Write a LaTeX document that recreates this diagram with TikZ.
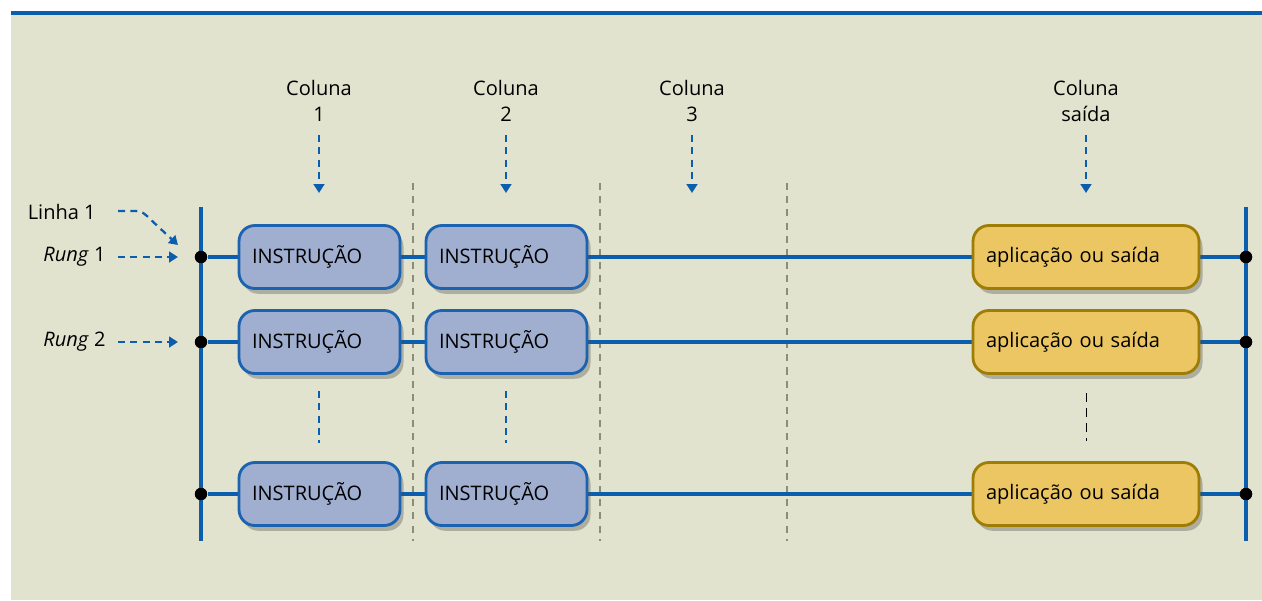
\documentclass[tikz,border=0pt]{standalone}
\usepackage{fontspec}
\setmainfont{Open Sans}
\usetikzlibrary{arrows.meta,shadows}
\definecolor{bg}{HTML}{E2E3CE}
\definecolor{railblue}{HTML}{0B5DAE}
\definecolor{instfill}{HTML}{A0AED0}
\definecolor{instdraw}{HTML}{1B62B0}
\definecolor{outfill}{HTML}{EBC662}
\definecolor{outdraw}{HTML}{9E7D06}
\definecolor{sepgray}{HTML}{8C8C7C}
\tikzset{
  rail/.style={railblue,line width=2.3pt},
  rungline/.style={railblue,line width=2.2pt},
  inst/.style={draw=instdraw,fill=instfill,line width=1.6pt,rounded corners=9pt,
    minimum width=3.22cm,minimum height=1.26cm,text width=2.7cm,align=left,
    inner xsep=0.26cm,font=\fontsize{11.4}{13}\selectfont,
    drop shadow={shadow xshift=2pt,shadow yshift=-3pt,opacity=0.35,fill=black!70}},
  outbox/.style={draw=outdraw,fill=outfill,line width=1.6pt,rounded corners=9pt,
    minimum width=4.52cm,minimum height=1.26cm,text width=4.0cm,align=left,
    inner xsep=0.26cm,font=\fontsize{11.4}{13}\selectfont,
    drop shadow={shadow xshift=2pt,shadow yshift=-3pt,opacity=0.35,fill=black!70}},
  joint/.style={circle,fill=black,inner sep=0pt,minimum size=7pt},
  lbl/.style={font=\fontsize{11.4}{14.6}\selectfont,align=center,inner sep=0pt},
  bluedash/.style={railblue,line width=1.3pt,dash pattern=on 4pt off 3pt},
  darr/.style={bluedash,-{Triangle[length=5pt,width=6pt]}},
  sep/.style={sepgray,line width=0.8pt,dash pattern=on 4pt off 3.5pt},
}
\begin{document}
\begin{tikzpicture}[x=0.02cm,y=-0.02cm]
\useasboundingbox (0,0) rectangle (1262,600);
\fill[white] (0,0) rectangle (1262,600);
\fill[bg] (11,13) rectangle (1262,600);
\draw[railblue,line width=1.8pt] (11,13) -- (1262,13);

% column separators
\foreach \x/\n in {413/s1,600/s2,787/s3}{
  \coordinate (\n t) at (\x,183);
  \coordinate (\n b) at (\x,541);
  \draw[sep] (\n t) -- (\n b);
}

% rails
\coordinate (lt) at (201,207); \coordinate (lb) at (201,541);
\coordinate (rt) at (1246,207); \coordinate (rb) at (1246,541);

% rung joints
\foreach \r/\y in {1/257,2/342,3/494}{
  \node[joint] (L\r) at (201,\y) {};
  \node[joint] (R\r) at (1246,\y) {};
  \draw[rungline] (L\r) -- (R\r);
}
\draw[rail] (lt) -- (lb);
\draw[rail] (rt) -- (rb);
\foreach \r/\y in {1/257,2/342,3/494}{
  \node[joint] at (L\r) {};
  \node[joint] at (R\r) {};
}

% boxes
\foreach \r/\y in {1/257,2/342,3/494}{
  \node[inst] (A\r) at (319.5,\y) {INSTRUÇÃO};
  \node[inst] (B\r) at (506.5,\y) {INSTRUÇÃO};
  \node[outbox] (O\r) at (1086,\y) {aplicação ou saída};
}

% column labels
\node[lbl] (c1) at (319,101) {Coluna\\1};
\node[lbl] (c2) at (506,101) {Coluna\\2};
\node[lbl] (c3) at (692,101) {Coluna\\3};
\node[lbl] (c4) at (1086,101) {Coluna\\saída};
\foreach \x/\n in {319/c1,506/c2,692/c3,1086/c4}{
  \coordinate (\n s) at (\x,135);
  \coordinate (\n e) at (\x,193);
  \draw[darr] (\n s) -- (\n e);
}

% row dots
\coordinate (d1s) at (319,391); \coordinate (d1e) at (319,443);
\coordinate (d2s) at (506,391); \coordinate (d2e) at (506,443);
\coordinate (d3s) at (1086,393); \coordinate (d3e) at (1086,441);
\draw[bluedash] (d1s) -- (d1e);
\draw[bluedash] (d2s) -- (d2e);
\draw[black,line width=0.5pt,dash pattern=on 5pt off 3.5pt] (d3s) -- (d3e);

% left labels
\node[lbl,anchor=east] (linha) at (96,212) {Linha 1};
\node[lbl,anchor=east] (rung1) at (106,257) {\textit{Rung} 1};
\node[lbl,anchor=east] (rung2) at (106,342) {\textit{Rung} 2};
\coordinate (la) at (118,211);
\coordinate (lae) at (178,245);
\draw[darr] (la) -- (136,211) .. controls (142,211) and (145,214) .. (150,219) -- (lae);
\coordinate (r1e) at (178,257);
\coordinate (r2e) at (178,342);
\draw[darr] (118,257) -- (r1e);
\draw[darr] (118,342) -- (r2e);
\end{tikzpicture}
\end{document}
